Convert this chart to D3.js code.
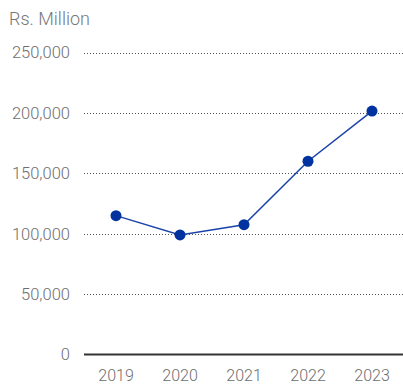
<!DOCTYPE html>
<html><head><meta charset="utf-8">
<script src="https://cdn.jsdelivr.net/npm/d3@7"></script>
<style>body{margin:0;background:#fff;} svg{display:block;}</style>
</head><body>
<script>
const years = ["2019","2020","2021","2022","2023"];
const values = [115000, 99000, 107500, 160000, 201500];
const yTicks = [0, 50000, 100000, 150000, 200000, 250000];
const unitLabel = "Rs. Million";

const W = 403, H = 385;
const svg = d3.select("body").append("svg").attr("width", W).attr("height", H);
const font = "Roboto, 'Liberation Sans', sans-serif";

const x = d3.scaleBand().domain(years).range([84, 404]);
const y = d3.scaleLinear().domain([0, 250000]).range([354.6, 52.5]);

svg.append("text").attr("x", 9).attr("y", 25).attr("font-family", font)
  .attr("font-size", 18).attr("font-weight", 300).attr("fill", "#777").text(unitLabel);

const yAxis = d3.axisLeft(y).tickValues(yTicks).tickSize(0).tickPadding(14)
  .tickFormat(d3.format(","));
const gy = svg.append("g").attr("transform", "translate(84,0)").call(yAxis);
gy.select(".domain").remove();
gy.selectAll("text").attr("font-family", font).attr("font-size", 16.5).attr("font-weight", 300).attr("fill", "#6e6e6e");

svg.append("g").selectAll("line").data(yTicks.filter(d => d > 0)).join("line")
  .attr("x1", 84).attr("x2", 403).attr("y1", d => Math.round(y(d)) + 0.5).attr("y2", d => Math.round(y(d)) + 0.5)
  .attr("stroke", "#555").attr("stroke-width", 1).attr("stroke-dasharray", "1,2");

svg.append("line").attr("x1", 84).attr("x2", 403).attr("y1", y(0)).attr("y2", y(0))
  .attr("stroke", "#333").attr("stroke-width", 2);

const xAxis = d3.axisBottom(x).tickSize(0).tickPadding(15);
const gx = svg.append("g").attr("transform", `translate(0,${y(0)})`).call(xAxis);
gx.select(".domain").remove();
gx.selectAll("text").attr("font-family", font).attr("font-size", 16).attr("font-weight", 300).attr("fill", "#6e6e6e");

const cx = d => x(d) + x.bandwidth() / 2;
const line = d3.line().x((d, i) => cx(years[i])).y(d => y(d));
svg.append("path").datum(values).attr("d", line).attr("fill", "none")
  .attr("stroke", "#1a44a8").attr("stroke-width", 1.5);
svg.append("g").selectAll("circle").data(values).join("circle")
  .attr("cx", (d, i) => cx(years[i])).attr("cy", d => y(d)).attr("r", 5.5)
  .attr("fill", "#00339f");
</script>
</body></html>
